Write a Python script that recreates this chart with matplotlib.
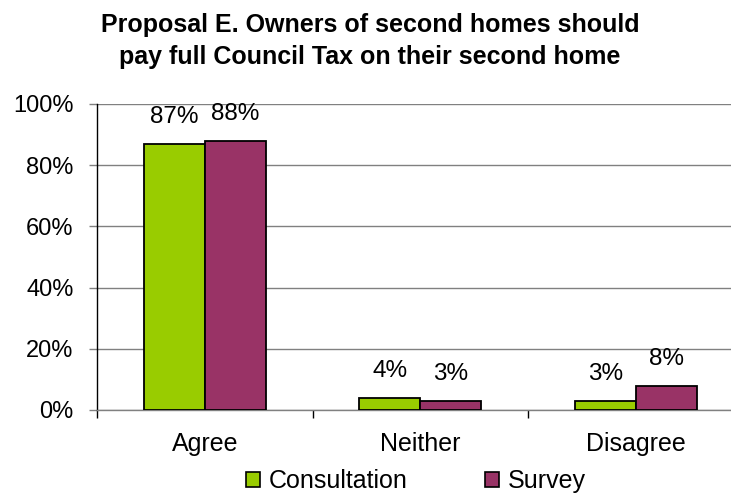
import matplotlib
matplotlib.use("Agg")
import matplotlib.pyplot as plt
import numpy as np
from matplotlib.patches import Patch

plt.rcParams['font.family'] = ['Liberation Sans', 'DejaVu Sans']

categories = ["Agree", "Neither", "Disagree"]
consultation = [87, 4, 3]
survey = [88, 3, 8]
series_names = ["Consultation", "Survey"]
colors = ["#99CC00", "#993366"]
title = "Proposal E. Owners of second homes should\npay full Council Tax on their second home"

fig = plt.figure(figsize=(7.31, 4.96), dpi=100)
ax = fig.add_axes([97 / 731, 86 / 496, 646.5 / 731, 306 / 496])

x = np.arange(len(categories))
w = 0.283
for vals, off, col in ((consultation, -w / 2, colors[0]), (survey, w / 2, colors[1])):
    bars = ax.bar(x + off, vals, width=w, color=col, edgecolor="black", linewidth=1.3, zorder=3)
    for b, v in zip(bars, vals):
        ax.annotate(f"{v}%", (b.get_x() + b.get_width() / 2, v), xytext=(0, 16),
                    textcoords="offset pixels", ha="center", va="bottom", fontsize=17.5)

ax.set_xlim(-0.5, 2.5)
ax.set_ylim(0, 100)
ax.set_yticks(np.arange(0, 101, 20))
ax.set_yticklabels([f"{t}%" for t in range(0, 101, 20)], fontsize=17)
ax.yaxis.grid(True, color="#808080", linewidth=1, zorder=0)
ax.tick_params(axis="y", length=6, color="#808080", width=1, pad=11)

ax.set_xticks(x)
ax.set_xticklabels(categories, fontsize=18)
ax.tick_params(axis="x", length=0, pad=16)
ax.set_xticks([-0.5, 0.5, 1.5, 2.5], minor=True)
ax.tick_params(axis="x", which="minor", length=6, color="black", width=1)

for s in ("top", "right"):
    ax.spines[s].set_visible(False)
ax.spines["left"].set_color("black")
ax.spines["left"].set_linewidth(1)
ax.spines["bottom"].set_color("#808080")
ax.spines["bottom"].set_linewidth(1)

fig.text(370 / 731, 1 - 41 / 496, title, ha="center", va="center", fontsize=18,
         fontweight="bold", linespacing=1.42)

handles = [Patch(facecolor=c, edgecolor="black", linewidth=1.2) for c in colors]
fig.legend(handles, series_names, loc="center", bbox_to_anchor=(416 / 731, 1 - 481 / 496),
           ncol=2, frameon=False, fontsize=18, handlelength=0.55, handleheight=0.55,
           handletextpad=0.36, columnspacing=3.1, borderaxespad=0, borderpad=0)

fig.savefig("out.png", dpi=100)
